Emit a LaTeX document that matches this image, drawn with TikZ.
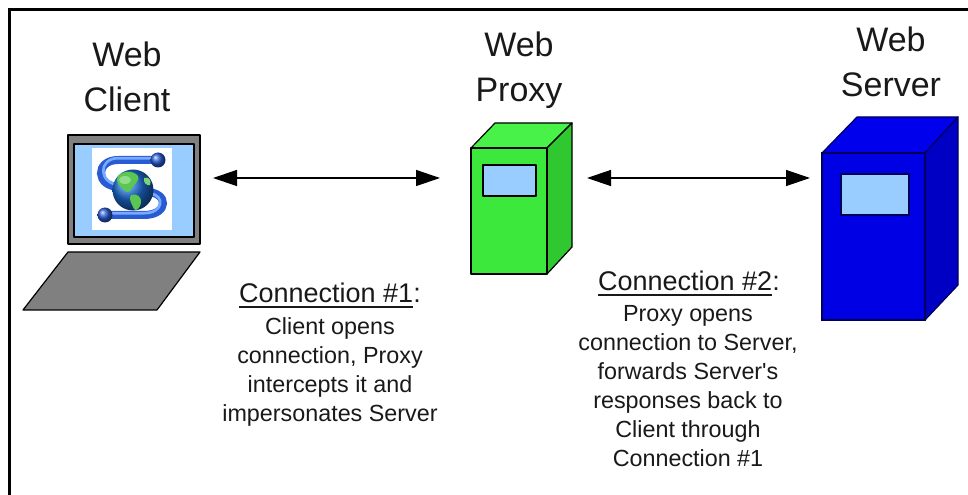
\documentclass[tikz,border=0pt]{standalone}
\usepackage{fontspec}
\setmainfont{Liberation Sans}
\usetikzlibrary{arrows.meta}

\definecolor{screengray}{RGB}{128,128,128}
\definecolor{screenblue}{RGB}{153,204,255}
\definecolor{proxyfront}{RGB}{60,232,60}
\definecolor{proxytop}{RGB}{72,242,72}
\definecolor{proxyside}{RGB}{48,200,48}
\definecolor{serverfront}{RGB}{0,0,228}
\definecolor{servertop}{RGB}{0,0,236}
\definecolor{serverside}{RGB}{0,0,196}
\definecolor{serveredge}{RGB}{0,0,90}
\definecolor{tubeblue}{RGB}{40,90,210}
\definecolor{tubelight}{RGB}{120,170,255}
\definecolor{landgreen}{RGB}{90,200,80}
\definecolor{textdark}{RGB}{25,25,25}

\newcommand\headline[1]{\setbox0\hbox{#1}\rlap{\rule[-3.6pt]{\wd0}{1.5pt}}\box0}

\begin{document}
\begin{tikzpicture}[x=0.75pt,y=-0.75pt,
  title/.style={align=center,font=\fontsize{25.5}{33.75}\selectfont,inner sep=0,anchor=north,text=textdark},
  heading/.style={font=\fontsize{20.25}{24}\selectfont,inner sep=0,anchor=north,text=textdark},
  note/.style={align=center,font=\fontsize{17.5}{21.75}\selectfont,inner sep=0,anchor=north,text=textdark},
  conn/.style={draw=black,line width=1pt,
    {Triangle[length=18pt,width=12pt]}-{Triangle[length=18pt,width=12pt]}},
  outline/.style={draw=black,line width=0.9pt,line join=round},
]
\useasboundingbox (0,0) rectangle (968,495);
\fill[white] (0,0) rectangle (968,495);

% open frame along the top and left edges
\draw[line width=1.6pt] (9.5,495) -- (9.5,9.5) -- (968,9.5);

% ---------------- web client: laptop ----------------
\fill[screengray,outline] (68,135) rectangle (200,244);
\fill[screenblue,outline] (74,144) rectangle (194,237);
\fill[screengray,outline] (68,252) -- (200,252) -- (157,310) -- (23,310) -- cycle;

% application icon on the screen
\fill[white] (92,148) rectangle (172,230);
\begin{scope}[line cap=round]
  \draw[tubeblue,line width=6pt] (158,160) -- (118,160)
     .. controls (95,160) and (95,187) .. (120,187);
  \draw[tubelight,line width=2pt] (156,158.2) -- (118,158.2)
     .. controls (98,158.2) and (98,184) .. (120,185);
  \draw[tubeblue,line width=6pt] (146,192)
     .. controls (169,192) and (169,215) .. (144,215) -- (105,215);
  \draw[tubelight,line width=2pt] (150,193.5)
     .. controls (165,195) and (164,213.2) .. (144,213.2) -- (108,213.2);
\end{scope}
\shade[ball color=tubeblue] (158,160) circle (7.5);
\shade[ball color=tubeblue] (105,215) circle (7.5);
\shade[ball color={rgb,255:red,30;green,110;blue,215}] (133,190) circle (20.5);
\begin{scope}
  \clip (133,190) circle (20.5);
  \fill[landgreen] (118,176) .. controls (124,170) and (134,171) .. (138,176)
     .. controls (140,181) and (134,184) .. (132,188)
     .. controls (130,193) and (127,193) .. (124,190)
     .. controls (119,186) and (115,181) .. (118,176) -- cycle;
  \fill[landgreen] (131,195) .. controls (137,193) and (142,197) .. (141,203)
     .. controls (140,208) and (136,212) .. (134,209)
     .. controls (132,204) and (128,199) .. (131,195) -- cycle;
  \fill[landgreen!80!white] (144,178) .. controls (149,176) and (152,181) .. (150,185)
     .. controls (147,186) and (143,183) .. (144,178) -- cycle;
\end{scope}
\fill[white,opacity=0.35] (125,180) ellipse (6 and 4);

% ---------------- web proxy: green tower ----------------
\fill[proxytop,outline] (471,148) -- (495,123) -- (572,123) -- (547,148) -- cycle;
\fill[proxyside,outline] (547,148) -- (572,123) -- (572,247) -- (547,274) -- cycle;
\fill[proxyfront,outline] (471,148) rectangle (547,274);
\fill[screenblue,outline] (483,165) rectangle (536,196);

% ---------------- web server: blue tower ----------------
\fill[servertop,draw=serveredge,line width=0.9pt,line join=round]
  (822,153) -- (857,117) -- (958,117) -- (925,153) -- cycle;
\fill[serverside,draw=serveredge,line width=0.9pt,line join=round]
  (925,153) -- (958,117) -- (958,285) -- (925,320) -- cycle;
\fill[serverfront,draw=serveredge,line width=0.9pt] (822,153) rectangle (925,320);
\fill[screenblue,draw=serveredge,line width=0.9pt] (841,174) rectangle (909,215);

% ---------------- titles ----------------
\node[title] (client) at (127,42) {Web\\Client};
\node[title] (proxy)  at (519,32) {Web\\Proxy};
\node[title] (server) at (891,27) {Web\\Server};

% ---------------- connections ----------------
\coordinate (c1a) at (213,178);
\coordinate (c1b) at (440,178);
\coordinate (c2a) at (587,178);
\coordinate (c2b) at (810,178);
\draw[conn] (c1a) -- (c1b);
\draw[conn] (c2a) -- (c2b);

\node[heading] (h1) at (330,283) {\headline{Connection \#1}:};
\node[note] (n1) at (330,317) {Client opens\\connection, Proxy\\intercepts it and\\impersonates Server};

\node[heading] (h2) at (689,271) {\headline{Connection \#2}:};
\node[note] (n2) at (688,305) {Proxy opens\\connection to Server,\\forwards Server\textquotesingle s\\responses back to\\Client through\\Connection \#1};
\end{tikzpicture}
\end{document}
